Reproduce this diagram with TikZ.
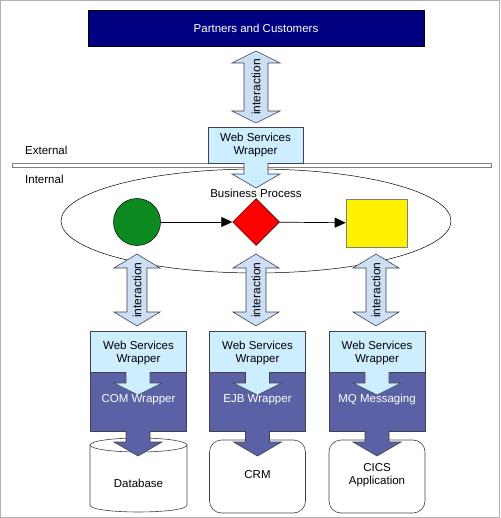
\documentclass[tikz,border=0pt]{standalone}
\usepackage{fontspec}
\setmainfont{Liberation Sans}
\usetikzlibrary{shapes.geometric,arrows.meta}
\definecolor{navy}{HTML}{000080}
\definecolor{wsblue}{HTML}{CCEEFF}
\definecolor{iblue}{HTML}{CCDFF5}
\definecolor{slate}{HTML}{5A62A5}
\definecolor{dgreen}{HTML}{0C8A1F}
\definecolor{edge}{HTML}{404050}
\newcommand\vdarrow[7]{% name, cx, top, bot, shaft half, head half, head length
  \draw[iarrow] (#2,#3) -- (#2+#6,#3+#7) -- (#2+#5,#3+#7) -- (#2+#5,#4-#7) -- (#2+#6,#4-#7) -- (#2,#4)
    -- (#2-#6,#4-#7) -- (#2-#5,#4-#7) -- (#2-#5,#3+#7) -- (#2-#6,#3+#7) -- cycle;
  \node[rotate=90, font=\fontsize{12}{12}\selectfont, inner sep=0] (#1) at (#2,{(#3+#4)/2}) {interaction};}
\newcommand\downarr[7]{% fill, cx, top, neck, tip, shaft half, head half
  \fill[#1] (#2-#6,#3) -- (#2-#6,#4) -- (#2-#7,#4) -- (#2,#5) -- (#2+#7,#4) -- (#2+#6,#4) -- (#2+#6,#3) -- cycle;
  \draw[edge, line width=0.6pt] (#2-#6,#3) -- (#2-#6,#4) -- (#2-#7,#4) -- (#2,#5) -- (#2+#7,#4) -- (#2+#6,#4) -- (#2+#6,#3);}
\tikzset{
  iarrow/.style={fill=iblue, draw=edge, line width=0.6pt},
  wsbox/.style={draw=edge, fill=wsblue, line width=0.6pt, minimum width=96pt, minimum height=41pt, inner sep=0, align=center, text depth=0pt},
  darkbox/.style={draw=edge, fill=slate, line width=0.6pt, minimum width=96pt, minimum height=59pt, inner sep=0},
  backend/.style={draw=edge, fill=white, line width=0.6pt, rounded corners=12pt, minimum width=96pt, minimum height=73pt, inner sep=0, align=center},
  lbl/.style={inner sep=0, align=center},
  flow/.style={line width=0.7pt, -{Triangle[length=11pt,width=10pt]}},
}
\begin{document}
\begin{tikzpicture}[x=1pt, y=-1pt, font=\fontsize{11.5}{14}\selectfont]
\useasboundingbox (0,0) rectangle (500,518);
\draw[gray!60] (0.5,0.5) rectangle (499.5,517.5);
% top
\node[draw=black, fill=navy, text=white, minimum width=336pt, minimum height=36pt, inner sep=0] (pc) at (256,28) {Partners and Customers};
\vdarrow{i0}{256}{51}{123}{12}{24}{12}
% boundary bar
\draw[gray, fill=white, line width=0.6pt] (12,163) rectangle (491,167.5);
\node[lbl, anchor=west] (ext) at (25,150) {External};
\node[lbl, anchor=west] (int) at (25,179) {Internal};
% business process ellipse
\node[draw=black, ellipse, line width=0.5pt, minimum width=390pt, minimum height=104pt, inner sep=0] (bp) at (256,221) {};
\node[draw=edge, fill=wsblue, line width=0.6pt, minimum width=95pt, minimum height=36pt, inner sep=0, align=center] (wtop) at (255.5,145) {Web Services\\[-1pt]Wrapper};
\downarr{wsblue}{256}{163}{174}{188}{12}{24}
\node[lbl] (bplbl) at (256,193) {Business Process};
% process shapes
\node[circle, draw=black, fill=dgreen, minimum size=47pt, inner sep=0, line width=0.5pt] (c) at (137,222) {};
\node[diamond, draw=black, fill=red, minimum width=47pt, minimum height=47pt, inner sep=0, line width=0.5pt] (d) at (256,222) {};
\node[rectangle, draw=gray, fill=yellow, minimum width=61pt, minimum height=48pt, inner sep=0, line width=0.6pt] (s) at (376.5,223) {};
\draw[flow] (c) -- (d);
\draw[flow] (d) -- (s);
% interaction arrows
\vdarrow{i1}{137}{254}{326}{10}{23}{14}
\vdarrow{i2}{256}{254}{326}{10}{23}{14}
\vdarrow{i3}{376}{254}{326}{10}{23}{14}
% back ends
\fill[white] (90,445) -- (90,505) .. controls (90,514.3) and (187,514.3) .. (187,505) -- (187,445) -- cycle;
\draw[edge, line width=0.6pt] (90,445) -- (90,505) .. controls (90,514.3) and (187,514.3) .. (187,505) -- (187,445);
\draw[edge, fill=white, line width=0.6pt] (138.5,445) ellipse [x radius=48.5pt, y radius=7pt];
\node[lbl] (db) at (138.5,483) {Database};
\node[backend] (crm) at (257.5,476.5) {};
\node[lbl] (crmt) at (257.5,475) {CRM};
\node[backend] (cics) at (377,476.5) {};
\node[lbl] (cicst) at (377,475) {CICS\\[-1pt]Application};
% wrapper stacks
\node[wsbox] (w1) at (138.5,351.5) {Web Services\\[-1pt]Wrapper};
\node[darkbox, anchor=north] (k1) at (w1.south) {};
\node[wsbox] (w2) at (257.5,351.5) {Web Services\\[-1pt]Wrapper};
\node[darkbox, anchor=north] (k2) at (w2.south) {};
\node[wsbox] (w3) at (377,351.5) {Web Services\\[-1pt]Wrapper};
\node[darkbox, anchor=north] (k3) at (w3.south) {};
\downarr{wsblue}{138}{372}{383}{395}{12}{24}
\downarr{wsblue}{257.5}{372}{383}{395}{12}{24}
\downarr{wsblue}{377}{372}{383}{395}{12}{24}
\node[lbl, text=white] (t1) at (138.5,400) {COM Wrapper};
\node[lbl, text=white] (t2) at (257.5,400) {EJB Wrapper};
\node[lbl, text=white] (t3) at (377,400) {MQ Messaging};
\downarr{slate}{138}{431}{442}{456}{12}{24}
\downarr{slate}{257.5}{431}{442}{456}{12}{24}
\downarr{slate}{377}{431}{442}{456}{12}{24}
\end{tikzpicture}
\end{document}
